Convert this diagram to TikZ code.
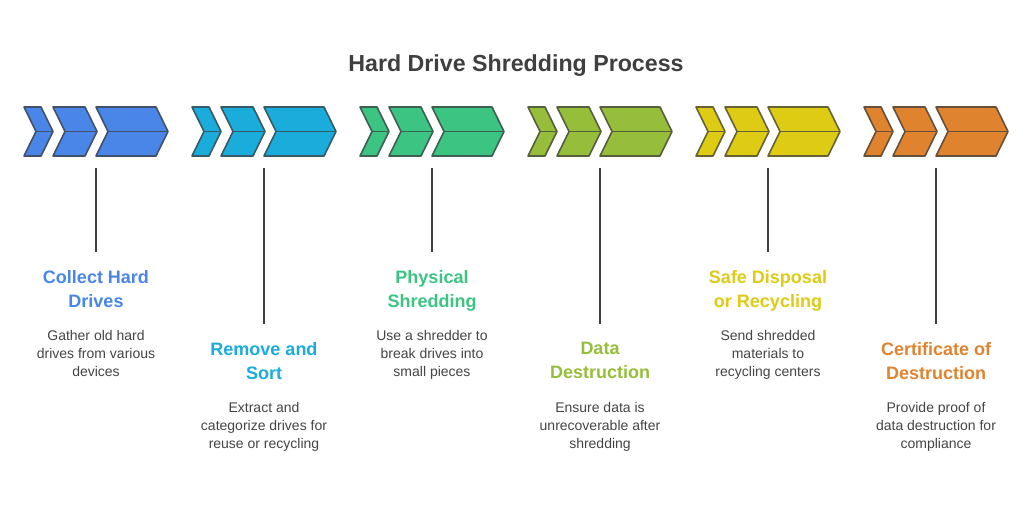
\documentclass[tikz,border=0pt]{standalone}
\usepackage{fontspec}
\setmainfont{Liberation Sans}
\definecolor{cA}{HTML}{4A86E8}
\definecolor{cB}{HTML}{1AACDB}
\definecolor{cC}{HTML}{3CC482}
\definecolor{cD}{HTML}{96BE3A}
\definecolor{cE}{HTML}{DECB14}
\definecolor{cF}{HTML}{E0832F}
\definecolor{txt}{HTML}{454545}
\definecolor{ttl}{HTML}{3F3F3F}
\begin{document}
\begin{tikzpicture}[x=1pt,y=-1pt,
  chev/.style={line width=1.6pt, line join=round},
  conn/.style={draw=ttl, line width=1.8pt},
  steptitle/.style={anchor=north, inner sep=0pt, align=center, font=\bfseries\fontsize{18}{24}\selectfont},
  stepdesc/.style={anchor=north, inner sep=0pt, align=center, text=txt, font=\fontsize{14}{18}\selectfont},
  maintitle/.style={inner sep=0pt, text=ttl, font=\bfseries\fontsize{23.2}{27}\selectfont}]
\useasboundingbox[fill=white] (0,0) rectangle (1032,514);
\node[maintitle] (title) at (516,66) {Hard Drive Shredding Process};
\foreach \k/\col/\ttext/\dtext in {
  0/cA/{Collect Hard\\Drives}/{Gather old hard\\drives from various\\devices},
  1/cB/{Remove and\\Sort}/{Extract and\\categorize drives for\\reuse or recycling},
  2/cC/{Physical\\Shredding}/{Use a shredder to\\break drives into\\small pieces},
  3/cD/{Data\\Destruction}/{Ensure data is\\unrecoverable after\\shredding},
  4/cE/{Safe Disposal\\or Recycling}/{Send shredded\\materials to\\recycling centers},
  5/cF/{Certificate of\\Destruction}/{Provide proof of\\data destruction for\\compliance}}{
  \pgfmathsetmacro{\xo}{24+168*\k}
  \pgfmathsetmacro{\dy}{mod(\k,2)*72}
  \begin{scope}[shift={(\xo,0)}]
    \foreach \a/\b in {0/17, 29/61, 72/132}{
      \pgfmathsetmacro{\tip}{\b+12}
      \pgfmathsetmacro{\nch}{\a+12}
      \draw[chev, fill=\col, draw=\col!25!ttl]
        (\a,107) -- (\b,107) -- (\tip,131.5) -- (\b,156) -- (\a,156) -- (\nch,131.5) -- cycle;
      \draw[chev, draw=\col!25!ttl] (\nch,131.5) -- (\tip,131.5);
    }
    \coordinate (top\k) at (72,168);
    \coordinate (bot\k) at (72,252+\dy);
    \node[steptitle, text=\col] (t\k) at (72,270+\dy) {\ttext};
    \node[stepdesc] (d\k) at (72,330+\dy) {\dtext};
  \end{scope}
  \draw[conn] (top\k) -- (bot\k);
}
\end{tikzpicture}
\end{document}
